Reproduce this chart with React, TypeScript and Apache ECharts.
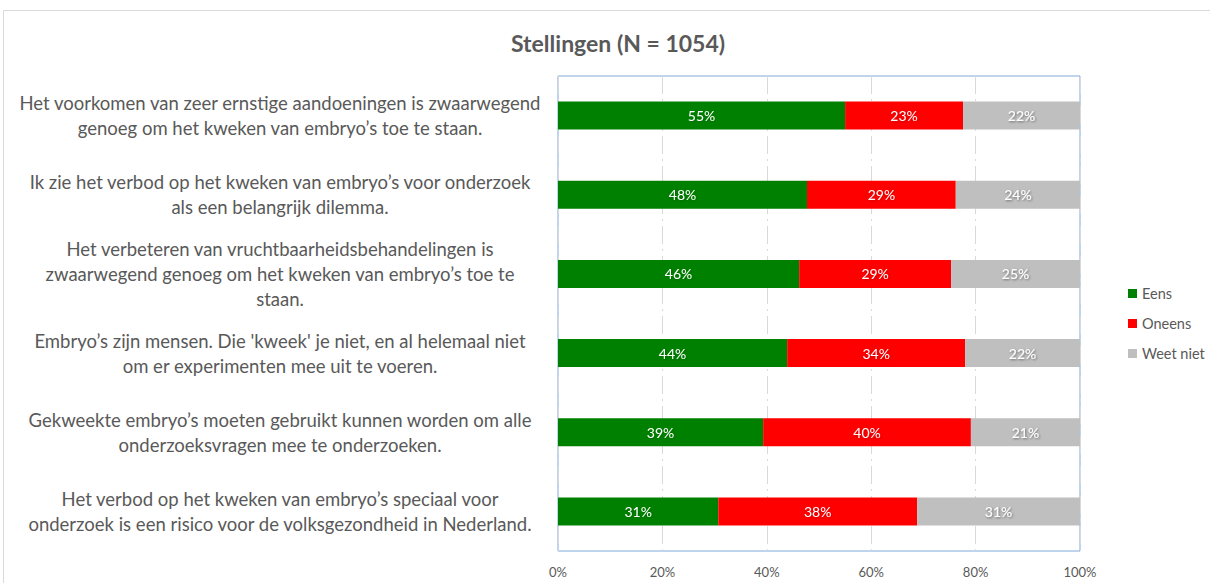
import React, { useEffect, useRef } from "react";
import * as echarts from "echarts";

const categories = [
  "Het voorkomen van zeer ernstige aandoeningen is zwaarwegend\ngenoeg om het kweken van embryo’s toe te staan.",
  "Ik zie het verbod op het kweken van embryo’s voor onderzoek\nals een belangrijk dilemma.",
  "Het verbeteren van vruchtbaarheidsbehandelingen is\nzwaarwegend genoeg om het kweken van embryo’s toe te\nstaan.",
  "Embryo’s zijn mensen. Die 'kweek' je niet, en al helemaal niet\nom er experimenten mee uit te voeren.",
  "Gekweekte embryo’s moeten gebruikt kunnen worden om alle\nonderzoeksvragen mee te onderzoeken.",
  "Het verbod op het kweken van embryo’s speciaal voor\nonderzoek is een risico voor de volksgezondheid in Nederland.",
];

const eens = [55.0, 47.7, 46.2, 43.9, 39.3, 30.7];
const oneens = [22.6, 28.5, 29.1, 34.1, 39.8, 38.1];
const weetNiet = [22.4, 23.8, 24.7, 22.0, 20.9, 31.2];

const seriesNames = ["Eens", "Oneens", "Weet niet"];
const seriesColors = ["#008000", "#ff0000", "#bfbfbf"];
const xTicks = [0, 20, 40, 60, 80, 100];

const FONT = "Lato, 'Open Sans', sans-serif";

export default function App() {
  const ref = useRef<HTMLDivElement>(null);
  useEffect(() => {
    if (!ref.current) return;
    const chart = echarts.init(ref.current, null, { renderer: "svg" });
    const values = [eens, oneens, weetNiet];
    chart.setOption({
      animation: false,
      backgroundColor: "#ffffff",
      textStyle: { fontFamily: FONT },
      title: {
        text: "Stellingen (N = 1054)",
        left: 506,
        top: 26,
        textStyle: { fontFamily: FONT, fontSize: 23, fontWeight: "bold", color: "#595959" },
      },
      graphic: [
        {
          type: "rect",
          shape: { x: 3.5, y: 10.5, width: 1300, height: 700 },
          style: { fill: "none", stroke: "#d9d9d9", lineWidth: 1 },
          silent: true,
        },
      ],
      legend: {
        orient: "vertical",
        left: 1123,
        top: 281,
        itemWidth: 9,
        itemHeight: 9,
        itemGap: 15,
        icon: "rect",
        data: seriesNames,
        textStyle: { fontFamily: FONT, fontSize: 14.5, color: "#595959" },
      },
      grid: {
        left: 558,
        right: 130,
        top: 76,
        bottom: 32,
        show: true,
        borderColor: "#7fa9da",
        borderWidth: 1,
        containLabel: false,
      },
      xAxis: {
        type: "value",
        min: xTicks[0],
        max: xTicks[xTicks.length - 1],
        interval: 20,
        axisLabel: {
          formatter: "{value}%",
          color: "#595959",
          fontSize: 13,
          fontFamily: FONT,
          margin: 14,
        },
        axisLine: { show: false },
        axisTick: { show: false },
        splitLine: {
          show: true,
          lineStyle: { color: "#d9d9d9", width: 1, type: [18, 5, 2, 5] },
        },
      },
      yAxis: {
        type: "category",
        inverse: true,
        data: categories,
        axisLine: { show: false },
        axisTick: { show: false },
        axisLabel: {
          align: "center",
          margin: 278,
          color: "#595959",
          fontSize: 18.5,
          lineHeight: 25,
          fontFamily: FONT,
        },
      },
      series: seriesNames.map((name, i) => ({
        name,
        type: "bar",
        stack: "total",
        barWidth: 28,
        data: values[i],
        itemStyle: { color: seriesColors[i] },
        label: {
          show: true,
          position: "inside",
          color: "#ffffff",
          fontSize: 14,
          fontFamily: FONT,
          textShadowColor: i === 2 ? "rgba(0,0,0,0.45)" : "rgba(0,0,0,0.2)",
          textShadowBlur: 2,
          textShadowOffsetX: 1,
          textShadowOffsetY: 1,
          formatter: (p: any) => Math.round(p.value) + "%",
        },
      })),
    });
    return () => chart.dispose();
  }, []);
  return (
    <div
      ref={ref}
      style={{ position: "fixed", left: 0, top: 0, width: 1210, height: 583 }}
    />
  );
}
